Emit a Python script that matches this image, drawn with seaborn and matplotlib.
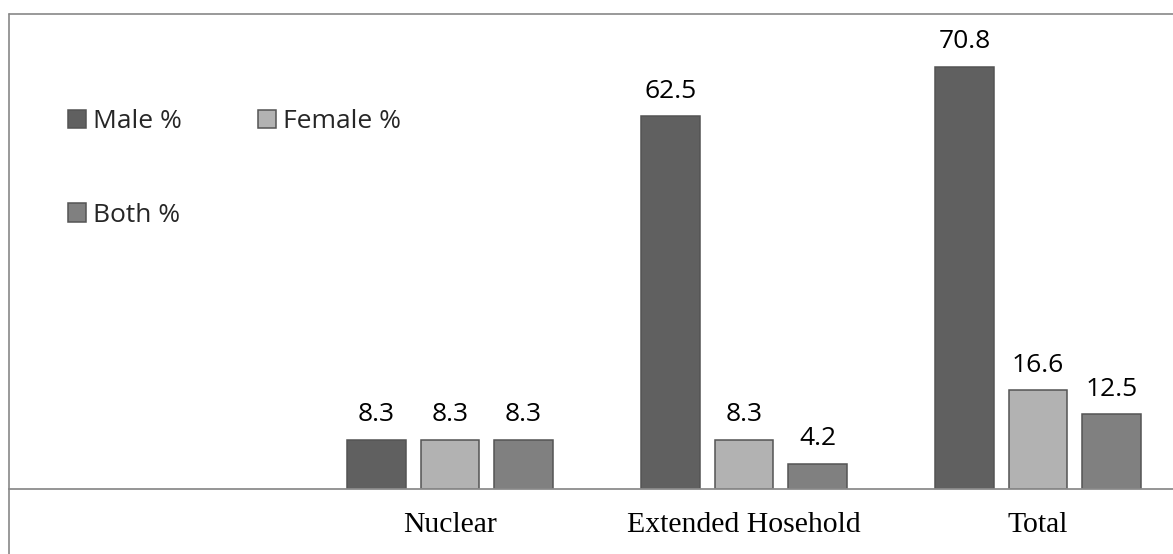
import matplotlib
matplotlib.use("Agg")
import matplotlib.pyplot as plt
from matplotlib.lines import Line2D
import pandas as pd
import seaborn as sns

# Household type vs. share of decisions by sex
categories = ["Nuclear", "Extended Hosehold", "Total"]
series = ["Male %", "Female %", "Both %"]
male = [8.3, 62.5, 70.8]
female = [8.3, 8.3, 16.6]
both = [8.3, 4.2, 12.5]
colors = ["#606060", "#b2b2b2", "#808080"]

df = pd.DataFrame({
    "category": categories * 3,
    "series": [series[0]] * 3 + [series[1]] * 3 + [series[2]] * 3,
    "value": male + female + both,
})

sns.set_theme(style="white")

W, H = 1173, 554
DPI = 100
fig = plt.figure(figsize=(W / DPI, H / DPI), dpi=DPI)
fig.patch.set_facecolor("white")

# plot area in pixel coordinates (left, bottom-of-zero, right, top)
x0, x1 = 9, 1185
y_zero, y_top = 489, 12
ax = fig.add_axes([x0 / W, (H - y_zero) / H, (x1 - x0) / W, (y_zero - y_top) / H])
ax.set_facecolor("none")

sns.barplot(
    data=df, x="category", y="value", hue="series",
    order=categories, hue_order=series, palette=colors,
    width=0.75, gap=0.2, edgecolor="#545454", linewidth=1.1,
    errorbar=None, ax=ax, legend=True,
)

ax.set_xlim(-1.5, 2.5)
ax.set_ylim(0, 80)
ax.set_xlabel("")
ax.set_ylabel("")
ax.set_yticks([])
for side in ["left", "right", "top"]:
    ax.spines[side].set_visible(False)
ax.spines["bottom"].set_color("#8c8c8c")
ax.spines["bottom"].set_linewidth(1.3)
ax.tick_params(axis="x", length=0, pad=16.5, labelsize=21.4, colors="black")
for lbl in ax.get_xticklabels():
    lbl.set_fontfamily("Liberation Serif")

for cont in ax.containers:
    ax.bar_label(cont, fmt="%.1f", padding=9, fontsize=19,
                 family="Open Sans", color="black")

handles, labels = ax.get_legend_handles_labels()
ax.get_legend().remove()
order = [0, 2, 1]
leg = fig.legend(
    [handles[i] for i in order], [labels[i] for i in order],
    ncol=2, loc="upper left", bbox_to_anchor=(68 / W, 1 - 109 / H),
    frameon=False, prop={"family": "Open Sans", "size": 19},
    handlelength=0.7, handleheight=0.7, handletextpad=0.25,
    columnspacing=2.87, labelspacing=2.6, borderaxespad=0,
    borderpad=0,
)

# outer chart-area border (top and left edges)
frame_kw = dict(color="#888888", linewidth=1.2, transform=None)
fig.add_artist(Line2D([9, W], [H - 14, H - 14], **frame_kw))
fig.add_artist(Line2D([9, 9], [0, H - 14], **frame_kw))

fig.savefig("out.png", dpi=DPI)
